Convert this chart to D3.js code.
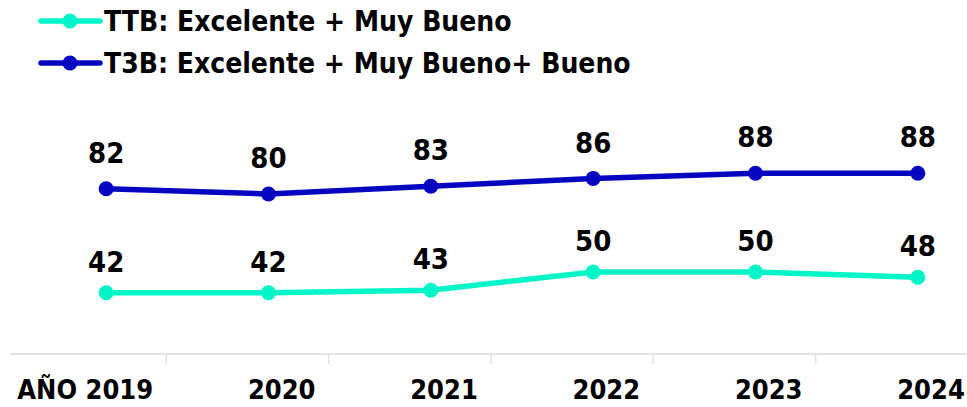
<!DOCTYPE html>
<html>
<head>
<meta charset="utf-8">
<script src="https://cdn.jsdelivr.net/npm/d3@7"></script>
<style>
  body { margin: 0; background: #fff; }
  text { font-family: "DejaVu Sans Condensed", "DejaVu Sans", sans-serif; font-weight: bold; }
</style>
</head>
<body>
<div id="container"></div>
<script>
const years = ["2019", "2020", "2021", "2022", "2023", "2024"];
const yearLabels = ["AÑO 2019", "2020", "2021", "2022", "2023", "2024"];
const ttbValues = [42, 42, 43, 50, 50, 48];
const t3bValues = [82, 80, 83, 86, 88, 88];
const seriesNames = ["TTB: Excelente + Muy Bueno", "T3B: Excelente + Muy Bueno+ Bueno"];

const width = 967, height = 407;

const svg = d3.select("#container")
    .append("svg")
    .attr("width", width)
    .attr("height", height);

// band scale: ticks sit on band edges, points a bit right of the centres
const x = d3.scaleBand()
    .domain(years)
    .range([4, 978]);

const y = d3.scaleLinear()
    .domain([0, 100])
    .range([402, 142]);

const px = d => x(d) + x.bandwidth() / 2 + 21;

const series = [
    { name: seriesNames[0], values: ttbValues, color: "#00f5c8", labelDy: -31 },
    { name: seriesNames[1], values: t3bValues, color: "#0606c0", labelDy: -36 }
];

// axis line + ticks
const axisY = 354;
svg.append("line")
    .attr("x1", 10).attr("x2", 967)
    .attr("y1", axisY).attr("y2", axisY)
    .attr("stroke", "#e3e3e3")
    .attr("stroke-width", 2);

svg.selectAll(".tick")
    .data(years.slice(1))
    .enter().append("line")
    .attr("x1", d => x(d)).attr("x2", d => x(d))
    .attr("y1", axisY).attr("y2", axisY + 10)
    .attr("stroke", "#e3e3e3")
    .attr("stroke-width", 1.5);

svg.selectAll(".xlabel")
    .data(years)
    .enter().append("text")
    .attr("x", d => x(d) + x.bandwidth() / 2 + 68)
    .attr("y", 399)
    .attr("text-anchor", "end")
    .attr("font-size", 27)
    .attr("fill", "#000")
    .text((d, i) => yearLabels[i]);

// lines, markers, labels
const line = d3.line()
    .x((d, i) => px(years[i]))
    .y(d => y(d));

series.forEach(s => {
    svg.append("path")
        .datum(s.values)
        .attr("fill", "none")
        .attr("stroke", s.color)
        .attr("stroke-width", 5.5)
        .attr("d", line);

    svg.selectAll(null)
        .data(s.values)
        .enter().append("circle")
        .attr("cx", (d, i) => px(years[i]))
        .attr("cy", d => y(d))
        .attr("r", 7.5)
        .attr("fill", s.color);

    svg.selectAll(null)
        .data(s.values)
        .enter().append("text")
        .attr("x", (d, i) => px(years[i]))
        .attr("y", d => y(d) + s.labelDy)
        .attr("dy", "0.35em")
        .attr("text-anchor", "middle")
        .attr("font-size", 29)
        .attr("fill", "#000")
        .text(d => d);
});

// legend
const legend = svg.selectAll(".legend")
    .data(series)
    .enter().append("g")
    .attr("transform", (d, i) => "translate(0," + (21 + i * 42) + ")");

legend.append("line")
    .attr("x1", 41).attr("x2", 100)
    .attr("stroke", d => d.color)
    .attr("stroke-width", 5.5)
    .attr("stroke-linecap", "round");

legend.append("circle")
    .attr("cx", 70)
    .attr("r", 7.5)
    .attr("fill", d => d.color);

legend.append("text")
    .attr("x", 104)
    .attr("dy", "0.36em")
    .attr("font-size", 28)
    .attr("fill", "#000")
    .text(d => d.name);
</script>
</body>
</html>
